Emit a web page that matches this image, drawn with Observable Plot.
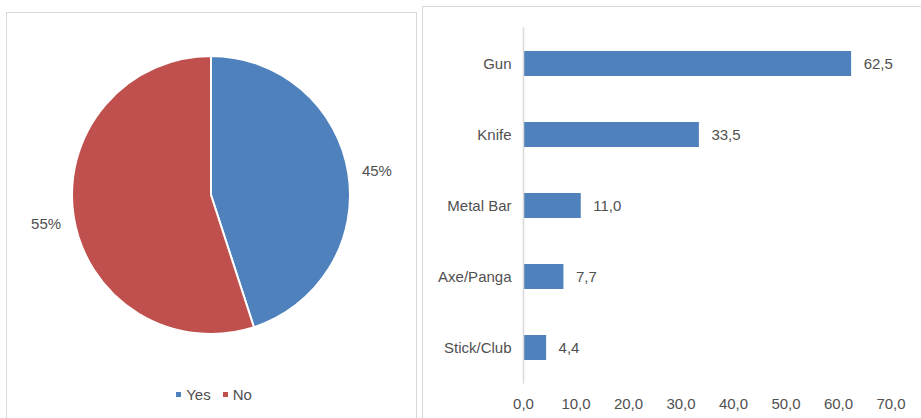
<!DOCTYPE html>
<html>
<head>
<meta charset="utf-8">
<script src="https://cdn.jsdelivr.net/npm/d3@7"></script>
<script src="https://cdn.jsdelivr.net/npm/@observablehq/plot@0.6"></script>
<style>
  html, body { margin: 0; padding: 0; background: #fff; }
  body { width: 921px; height: 418px; position: relative; overflow: hidden; font-family: "Liberation Sans", Arial, sans-serif; }
  .panel { position: absolute; border: 1px solid #d9d9d9; box-sizing: border-box; }
  #pie { position: absolute; top: 0; left: 0; }
  #bars { position: absolute; top: 0; left: 422px; }
  #legend { position: absolute; top: 386px; left: 0; width: 428px; text-align: center; font-size: 15px; color: #505050; }
  #legend span.sw { display: inline-block; width: 5px; height: 5px; margin-right: 5px; vertical-align: middle; position: relative; top: -2px; }
  #legend span.it { margin: 0 6px; }
  #err { position: absolute; left: 430px; top: 20px; color: red; font-size: 12px; width: 480px; }
</style>
</head>
<body>
<div class="panel" style="left:6px; top:12px; width:411px; height:420px;"></div>
<div class="panel" style="left:422px; top:6px; width:520px; height:420px;"></div>
<div id="pie"></div>
<div id="bars"></div>
<div id="legend"></div>
<div id="err"></div>
<script>
// ---- Data ----
const pieLabels = ["Yes", "No"];
const pieValues = [45, 55];
const pieColors = ["#4F81BD", "#C0504D"];

const weapons = ["Gun", "Knife", "Metal Bar", "Axe/Panga", "Stick/Club"];
const weaponValues = [62.5, 33.5, 11.0, 7.7, 4.4];
const xTicks = [0, 10, 20, 30, 40, 50, 60, 70];

const textColor = "#505050";
const fmt = d => d.toFixed(1).replace(".", ",");

// ---- Pie ----
const pieData = pieLabels.map((k, i) => ({ key: k, value: pieValues[i], color: pieColors[i] }));
const arcs = d3.pie().sort(null).value(d => d.value)(pieData);
const total = d3.sum(pieValues);
const labelR = 1.205;
const pieLabelData = arcs.map(a => {
  const m = (a.startAngle + a.endAngle) / 2;
  return { x: labelR * Math.sin(m), y: labelR * Math.cos(m), text: Math.round(a.data.value / total * 100) + "%" };
});

const cx = 211, cy = 195, R = 139;
const pieMark = (index, scales) => {
  const x0 = scales.x(0), y0 = scales.y(0);
  const r = scales.x(1) - scales.x(0);
  const arc = d3.arc().innerRadius(0).outerRadius(r);
  const g = d3.create("svg:g").attr("transform", `translate(${x0},${y0})`);
  g.selectAll("path").data(arcs).join("path")
    .attr("d", arc)
    .attr("fill", d => d.data.color)
    .attr("stroke", "#fff")
    .attr("stroke-width", 2)
    .attr("stroke-linejoin", "round");
  return g.node();
};

try {
const pie = Plot.plot({
  width: 420, height: 380,
  margin: 0,
  x: { domain: [-1, 1], range: [cx - R, cx + R], axis: null },
  y: { domain: [-1, 1], range: [cy + R, cy - R], axis: null },
  style: { fontFamily: "Liberation Sans, Arial, sans-serif", background: "transparent", overflow: "visible" },
  marks: [
    pieMark,
    Plot.text(pieLabelData, { x: "x", y: "y", text: "text", fontSize: 15, fill: textColor, dy: 2 })
  ]
});
document.getElementById("pie").appendChild(pie);
} catch (e) { document.getElementById("err").textContent += "PIE: " + e; }

// legend
const leg = document.getElementById("legend");
leg.innerHTML = pieLabels.map((k, i) =>
  `<span class="it"><span class="sw" style="background:${pieColors[i]}"></span>${k}</span>`).join("");

// ---- Bars ----
try {
const barData = weapons.map((w, i) => ({ weapon: w, value: weaponValues[i] }));
const bars = Plot.plot({
  width: 499, height: 418,
  marginLeft: 101, marginRight: 30.5, marginTop: 27.4, marginBottom: 34.4,
  x: { domain: [0, 70], label: null },
  y: { domain: weapons, paddingInner: 0.65, paddingOuter: 0.325, label: null },
  style: { fontFamily: "Liberation Sans, Arial, sans-serif", fontSize: "15px", color: textColor, background: "transparent", overflow: "visible" },
  marks: [
    Plot.axisX(xTicks, { tickFormat: fmt, tickSize: 0, tickPadding: 14, label: null, fontSize: 15, fill: textColor }),
    Plot.axisY({ tickSize: 0, tickPadding: 12, label: null, fontSize: 15, fill: textColor }),
    Plot.barX(barData, { x: "value", y: "weapon", fill: "#4F81BD" }),
    Plot.ruleX([0], { stroke: "#d9d9d9", strokeWidth: 1.5 }),
    Plot.text(barData, { x: "value", y: "weapon", text: d => fmt(d.value), textAnchor: "start", dx: 12, fontSize: 15, fill: textColor })
  ]
});
document.getElementById("bars").appendChild(bars);
} catch (e) { document.getElementById("err").textContent += " BARS: " + e; }
</script>
</body>
</html>
